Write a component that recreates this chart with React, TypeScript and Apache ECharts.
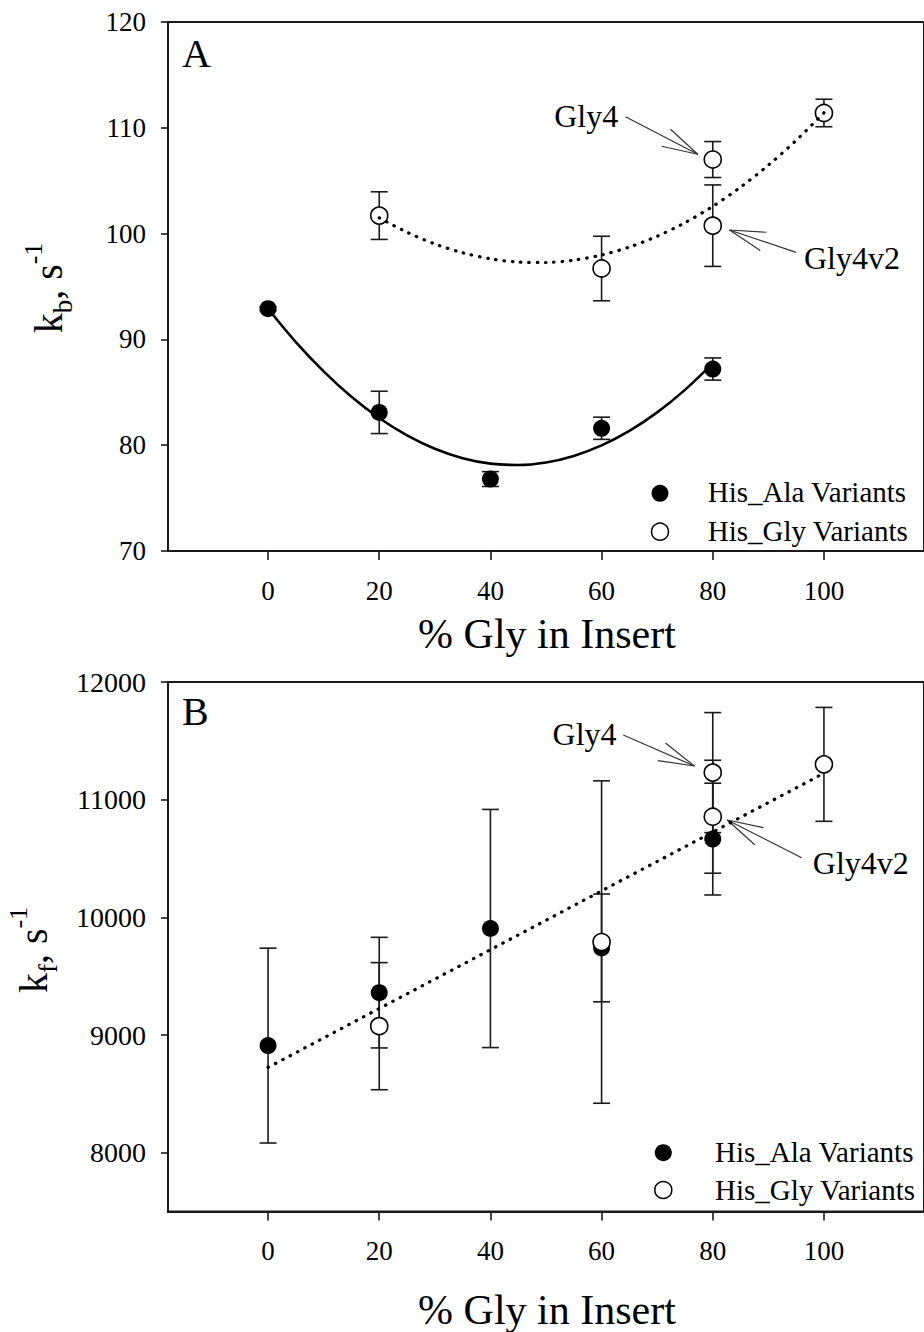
import React, { useEffect, useRef } from "react";
import * as echarts from "echarts";

const FONT = "Liberation Serif";

// ---- tick values ----
const xTicks = [0, 20, 40, 60, 80, 100];
const yTicksA = [70, 80, 90, 100, 110, 120];
const yTicksB = [8000, 9000, 10000, 11000, 12000];

// ---- legend entries ----
const legendNames = ["His_Ala Variants", "His_Gly Variants"];

// ---- panel A: k_b ----
const aAlaX = [0, 20, 40, 60, 80];
const aAlaY = [92.9, 83.1, 76.8, 81.6, 87.2];
const aAlaErr = [0.2, 2.0, 0.7, 1.05, 1.05];
const aGlyX = [20, 60, 80, 80, 100];
const aGlyY = [101.7, 96.7, 107.0, 100.75, 111.4];
const aGlyErr = [2.25, 3.05, 1.7, 3.85, 1.3];
// fitted curves
const aAlaFitX = [0, 5, 10, 15, 20, 25, 30, 35, 40, 45, 50, 55, 60, 65, 70, 75, 80];
const aAlaFitY = [92.9, 89.75, 86.98, 84.58, 82.57, 80.92, 79.66, 78.77, 78.26, 78.13, 78.37, 78.99, 79.98, 81.35, 83.1, 85.23, 87.73];
const aGlyFitX = [20, 25, 30, 35, 40, 45, 50, 55, 60, 65, 70, 75, 80, 85, 90, 95, 100];
const aGlyFitY = [101.49, 100.13, 99.02, 98.19, 97.62, 97.31, 97.27, 97.49, 97.98, 98.73, 99.75, 101.03, 102.58, 104.39, 106.47, 108.81, 111.42];

// ---- panel B: k_f ----
const bAlaX = [0, 20, 40, 60, 80];
const bAlaY = [8910, 9360, 9905, 9740, 10665];
const bAlaErr = [828, 470, 1012, 458, 475];
const bGlyX = [20, 60, 80, 80, 100];
const bGlyY = [9075, 9790, 11230, 10855, 11300];
const bGlyErr = [540, 1370, 510, 480, 484];
const bFitX = [0, 100];
const bFitY = [8725, 11225];

// ---- annotations (data coordinates) ----
const annA = [
  { text: "Gly4", tail: [64.3, 111.05], tip: [77.3, 107.5], at: [63.0, 111.12], align: "right" },
  { text: "Gly4v2", tail: [95.0, 98.23], tip: [83.0, 100.34], at: [96.4, 97.65], align: "left" },
];
const annB = [
  { text: "Gly4", tail: [63.9, 11549], tip: [76.7, 11286], at: [62.7, 11558], align: "right" },
  { text: "Gly4v2", tail: [96.0, 10506], tip: [82.6, 10827], at: [98.0, 10465], align: "left" },
];

const INK = "#1a1a1a";

function errorSeries(xs: number[], ys: number[], errs: number[], g: number) {
  return {
    type: "custom",
    xAxisIndex: g,
    yAxisIndex: g,
    silent: true,
    z: 2,
    data: xs.map((x, i) => [x, ys[i] - errs[i], ys[i] + errs[i]]),
    encode: { x: 0, y: [1, 2] },
    renderItem: (params: any, api: any) => {
      const x = api.value(0);
      const lo = api.coord([x, api.value(1)]);
      const hi = api.coord([x, api.value(2)]);
      const hw = 8.5;
      const style = { stroke: INK, lineWidth: 1.6, fill: null };
      return {
        type: "group",
        children: [
          { type: "line", shape: { x1: lo[0], y1: lo[1], x2: hi[0], y2: hi[1] }, style },
          { type: "line", shape: { x1: lo[0] - hw, y1: lo[1], x2: lo[0] + hw, y2: lo[1] }, style },
          { type: "line", shape: { x1: hi[0] - hw, y1: hi[1], x2: hi[0] + hw, y2: hi[1] }, style },
        ],
      };
    },
  };
}

const filledStyle = { color: "#000", opacity: 1 };
const openStyle = { color: "#ffffff", borderColor: "#000", borderWidth: 1.6, opacity: 1 };

function scatter(name: string, xs: number[], ys: number[], g: number, open: boolean) {
  return {
    type: "scatter",
    name,
    xAxisIndex: g,
    yAxisIndex: g,
    symbol: "circle",
    symbolSize: 17,
    z: 3,
    data: xs.map((x, i) => [x, ys[i]]),
    itemStyle: open ? openStyle : filledStyle,
  };
}

function fitLine(name: string, xs: number[], ys: number[], g: number, dotted: boolean, smooth: any) {
  return {
    type: "line",
    name,
    xAxisIndex: g,
    yAxisIndex: g,
    symbol: "none",
    smooth,
    z: 4,
    silent: true,
    data: xs.map((x, i) => [x, ys[i]]),
    lineStyle: dotted
      ? { color: "#000", width: 3.2, type: [0.5, 7.8], cap: "round", opacity: 1 }
      : { color: "#000", width: 2.6, opacity: 1 },
  };
}

function xAxis(g: number) {
  return {
    type: "value",
    gridIndex: g,
    min: -18,
    max: 118,
    axisLine: { show: true, onZero: false, lineStyle: { color: INK, width: 2 } },
    axisTick: { show: true, length: 9, lineStyle: { color: INK, width: 1.6 }, customValues: xTicks },
    axisLabel: {
      customValues: xTicks,
      margin: 26,
      fontSize: 27,
      color: "#000",
      fontFamily: FONT,
      formatter: (v: number) => String(v),
    },
    splitLine: { show: false },
  };
}

function yAxis(g: number, min: number, max: number, ticks: number[], fs: number) {
  return {
    type: "value",
    gridIndex: g,
    min,
    max,
    axisLine: { show: true, onZero: false, lineStyle: { color: INK, width: 2 } },
    axisTick: { show: true, length: 7, lineStyle: { color: INK, width: 1.6 }, customValues: ticks },
    axisLabel: {
      customValues: ticks,
      margin: 22,
      fontSize: fs,
      color: "#000",
      fontFamily: FONT,
      formatter: (v: number) => String(v),
    },
    splitLine: { show: false },
  };
}

function yTitle(x: number, y: number, sub: string) {
  return {
    type: "text",
    x,
    y,
    rotation: Math.PI / 2,
    silent: true,
    style: {
      text: `{m|k}{s|${sub}}{m|, s}{p|-1}`,
      align: "center",
      verticalAlign: "middle",
      fill: "#000",
      rich: {
        m: { fontSize: 40, lineHeight: 56, fontFamily: FONT, fill: "#000" },
        s: { fontSize: 27, lineHeight: 27, fontFamily: FONT, verticalAlign: "bottom", fill: "#000" },
        p: { fontSize: 26, lineHeight: 26, fontFamily: FONT, verticalAlign: "top", fill: "#000" },
      },
    },
  };
}

function plainText(text: string, x: number, y: number, fs: number, align: string) {
  return {
    type: "text",
    x,
    y,
    silent: true,
    style: { text, fontSize: fs, fontFamily: FONT, fill: "#000", align, verticalAlign: "middle" },
  };
}

function legendBlock(cx: number, rows: number[], textX: number, textRows: number[]) {
  const out: any[] = [];
  legendNames.forEach((name, i) => {
    const open = i === 1;
    out.push({
      type: "circle",
      silent: true,
      shape: { cx, cy: rows[i], r: 8.5 },
      style: open ? { fill: "#fff", stroke: "#000", lineWidth: 1.5 } : { fill: "#000" },
    });
    out.push(plainText(name, textX, textRows[i], 29, "left"));
  });
  return out;
}

export default function App() {
  const ref = useRef<HTMLDivElement>(null);
  useEffect(() => {
    if (!ref.current) return;
    const chart = echarts.init(ref.current, null, { renderer: "svg" });
    const option: any = {
      animation: false,
      backgroundColor: "#ffffff",
      grid: [
        { left: 168, top: 22, width: 757, height: 529, show: true, borderColor: INK, borderWidth: 2 },
        { left: 168, top: 682, width: 757, height: 529.5, show: true, borderColor: INK, borderWidth: 2 },
      ],
      xAxis: [xAxis(0), xAxis(1)],
      yAxis: [yAxis(0, 70, 120, yTicksA, 27), yAxis(1, 7500, 12000, yTicksB, 28)],
      series: [
        errorSeries(aAlaX, aAlaY, aAlaErr, 0),
        errorSeries(aGlyX, aGlyY, aGlyErr, 0),
        errorSeries(bAlaX, bAlaY, bAlaErr, 1),
        errorSeries(bGlyX, bGlyY, bGlyErr, 1),
        scatter(legendNames[0], aAlaX, aAlaY, 0, false),
        scatter(legendNames[1], aGlyX, aGlyY, 0, true),
        scatter(legendNames[0], bAlaX, bAlaY, 1, false),
        scatter(legendNames[1], bGlyX, bGlyY, 1, true),
        fitLine("fitAla", aAlaFitX, aAlaFitY, 0, false, 0.3),
        fitLine("fitGly", aGlyFitX, aGlyFitY, 0, true, 0.3),
        fitLine("fitB", bFitX, bFitY, 1, true, false),
      ],
    };
    chart.setOption(option);

    const graphics: any[] = [
      yTitle(48.4, 288, "b"),
      yTitle(33.4, 950, "f"),
      plainText("% Gly in Insert", 547, 634, 42, "center"),
      plainText("% Gly in Insert", 547, 1310, 42, "center"),
      plainText("A", 182, 53, 40, "left"),
      plainText("B", 182, 711.5, 40, "left"),
      ...legendBlock(660, [493.3, 531.7], 707.7, [492.3, 530.5]),
      ...legendBlock(663.3, [1152.7, 1190], 715, [1152.2, 1189.8]),
    ];
    const addAnn = (list: any[], g: number) => {
      list.forEach((a) => {
        const t = chart.convertToPixel({ gridIndex: g }, a.tail) as number[];
        const p = chart.convertToPixel({ gridIndex: g }, a.tip) as number[];
        const at = chart.convertToPixel({ gridIndex: g }, a.at) as number[];
        const ang = Math.atan2(t[1] - p[1], t[0] - p[0]);
        const len = 37;
        const spread = (15 * Math.PI) / 180;
        const st = { stroke: "#333", lineWidth: 1.2 };
        graphics.push({ type: "line", silent: true, shape: { x1: t[0], y1: t[1], x2: p[0], y2: p[1] }, style: st });
        [ang + spread, ang - spread].forEach((w) => {
          graphics.push({
            type: "line",
            silent: true,
            shape: { x1: p[0], y1: p[1], x2: p[0] + len * Math.cos(w), y2: p[1] + len * Math.sin(w) },
            style: st,
          });
        });
        graphics.push(plainText(a.text, at[0], at[1], 32, a.align));
      });
    };
    addAnn(annA, 0);
    addAnn(annB, 1);
    chart.setOption({ graphic: graphics });

    return () => chart.dispose();
  }, []);
  return (
    <div
      ref={ref}
      style={{ position: "absolute", left: 0, top: 0, width: 924, height: 1332, background: "#fff" }}
    />
  );
}
